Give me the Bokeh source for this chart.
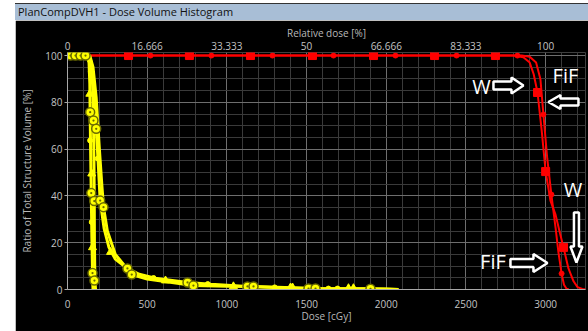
from bokeh.plotting import figure
from bokeh.models import (Range1d, LinearAxis, FixedTicker, CustomJSTickFormatter,
                          Label, PolyAnnotation, Div, Spacer)
from bokeh.layouts import row, column
from bokeh.embed import file_html
from bokeh.resources import INLINE

# ---------------- data ----------------
# PTV, plan W (squares)
ptv_w_dose = [0, 2800, 2860, 2900, 2925, 2949, 2975, 3000, 3030, 3062, 3090, 3112, 3143, 3175, 3200, 3230, 3260]
ptv_w_vol = [100, 100, 99.3, 97, 92, 84.2, 68, 50.4, 38, 32, 24, 18, 9, 3.5, 1, 0.2, 0]
ptv_w_mk_dose = [383, 765, 1148, 1537, 1920, 2303, 2685, 2949, 3000, 3112]
ptv_w_mk_vol = [100, 100, 100, 100, 100, 100, 100, 84.2, 50.4, 18]
# PTV, plan FiF (dots)
ptv_f_dose = [0, 2850, 2900, 2940, 2967, 2986, 3010, 3036, 3062, 3080, 3100, 3115, 3130, 3145]
ptv_f_vol = [100, 100, 99.5, 97, 90, 74.8, 56, 40.6, 26.5, 16, 6.8, 2, 0.4, 0]
ptv_f_mk_dose = [521, 903, 1286, 1669, 2058, 2441, 2823, 2986, 3036, 3100]
ptv_f_mk_vol = [100, 100, 100, 100, 100, 100, 100, 74.8, 40.6, 6.8]

# yellow structures
y1_dose = [0, 120, 135, 140, 142, 145, 149, 153, 157, 160]
y1_vol = [100, 100, 97, 88, 75.8, 60, 41.2, 22, 7, 0]
y2_dose = [0, 130, 145, 155, 160, 163, 166, 168, 169, 172, 176]
y2_vol = [100, 100, 98, 92, 82, 72.2, 55, 37.8, 20, 3.8, 0]
y3_dose = [0, 130, 150, 165, 180, 192, 205, 230, 260, 300, 376, 450, 550, 753, 900, 1129, 1300, 1512, 1700, 1901, 2077]
y3_vol = [100, 100, 97, 88, 68.7, 55, 38, 26, 18, 13, 9, 6.5, 4.8, 3, 2.2, 1.3, 0.9, 0.4, 0.35, 0.3, 0.0]
y4_dose = [0, 140, 160, 180, 200, 215, 226, 250, 300, 403, 500, 790, 1000, 1167, 1556, 2000, 2077]
y4_vol = [100, 100, 95, 82, 60, 45, 35.2, 25, 15, 6.4, 4.5, 1.7, 1.4, 1.3, 0.4, 0.2, 0]

ring_dose = [19, 50, 82, 113, 142, 149, 157, 163, 168, 169, 180, 205, 376, 753, 1129, 1512, 1901,
             226, 403, 790, 1167, 1556]
ring_vol = [100, 100, 100, 100, 75.8, 41.2, 7, 72.2, 37.8, 3.8, 68.7, 38, 9, 3, 1.3, 0.4, 0.3,
            35.2, 6.4, 1.7, 1.3, 0.4]
tri_dose = [140, 152, 157, 270, 615, 1041, 1399, 1412, 1763, 1794]
tri_vol = [83.6, 49.5, 18, 16, 3.8, 1.3, 0.8, 0.8, 0.5, 0.5]
ydot_dose = [146, 142, 152, 190, 540, 880, 1300, 1637, 1694]
ydot_vol = [93, 63.7, 28.8, 56, 4.9, 2.3, 0.9, 0.4, 0.4]

x_ticks = [0, 500, 1000, 1500, 2000, 2500, 3000]
x_minor = list(range(0, 3300, 100))
y_ticks = [0, 20, 40, 60, 80, 100]
y_minor = list(range(0, 105, 5))
rel_ticks = [0, 16.666, 33.333, 50, 66.666, 83.333, 100]
prescription = 3000.0

FONT = "Open Sans"

# ---------------- figure ----------------
p = figure(width=573, height=311, output_backend="svg", toolbar_location=None,
           x_range=Range1d(0, 3250), y_range=Range1d(0, 101.3),
           background_fill_color="black", border_fill_color="black",
           outline_line_color=None,
           min_border_left=52, min_border_right=3, min_border_top=32, min_border_bottom=42)

p.extra_x_ranges = {"rel": Range1d(0, 3250 / prescription * 100)}

# grids
p.xgrid.ticker = FixedTicker(ticks=x_ticks, minor_ticks=x_minor)
p.ygrid.ticker = FixedTicker(ticks=y_ticks, minor_ticks=y_minor)
p.xgrid.grid_line_color = "#6e6e6e"
p.ygrid.grid_line_color = "#6e6e6e"
p.xgrid.minor_grid_line_color = "#3a3a3a"
p.ygrid.minor_grid_line_color = "#3a3a3a"

lab_col = "#c4c4c4"
for ax in (p.xaxis[0], p.yaxis[0]):
    ax.axis_line_color = "#a8a8a8"
    ax.major_tick_line_color = "#a8a8a8"
    ax.minor_tick_in = 0
    ax.minor_tick_out = 0
    ax.major_tick_in = 0
    ax.major_label_text_color = lab_col
    ax.major_label_text_font = FONT
    ax.major_label_text_font_size = "10px"
    ax.axis_label_text_color = "#b8b8b8"
    ax.axis_label_text_font = FONT
    ax.axis_label_text_font_size = "10px"
    ax.axis_label_text_font_style = "normal"

p.xaxis.ticker = FixedTicker(ticks=x_ticks, minor_ticks=x_minor)
p.xaxis.axis_label = "Dose [cGy]"
p.xaxis.major_tick_out = 0
p.xaxis.major_label_standoff = 10
p.xaxis.axis_label_standoff = -2

p.yaxis.ticker = FixedTicker(ticks=y_ticks, minor_ticks=y_minor)
p.yaxis.axis_label = "Ratio of Total Structure Volume [%]"
p.yaxis.major_tick_out = 3
p.yaxis.major_label_standoff = 2
p.yaxis.axis_label_standoff = 8

top = LinearAxis(x_range_name="rel", axis_label="Relative dose [%]",
                 ticker=FixedTicker(ticks=rel_ticks, minor_ticks=[]),
                 formatter=CustomJSTickFormatter(code="return (Math.abs(tick-Math.round(tick))<1e-6) ? tick.toFixed(0) : tick.toFixed(3);"))
top.axis_line_color = None
top.major_tick_out = 0
top.major_tick_in = 0
top.minor_tick_out = 0
top.minor_tick_in = 0
top.major_label_standoff = 3
top.axis_label_standoff = -1
top.major_label_text_color = lab_col
top.major_label_text_font = FONT
top.major_label_text_font_size = "10px"
top.axis_label_text_color = "#b8b8b8"
top.axis_label_text_font = FONT
top.axis_label_text_font_size = "10px"
top.axis_label_text_font_style = "normal"
p.add_layout(top, "above")

# ---------------- curves ----------------
RED = "#ff0000"
YEL = "#ffff00"
p.line(ptv_w_dose, ptv_w_vol, line_color=RED, line_width=2)
p.line(ptv_f_dose, ptv_f_vol, line_color=RED, line_width=2)
p.scatter(ptv_w_mk_dose, ptv_w_mk_vol, marker="square", size=8, fill_color=RED, line_color=RED)
p.scatter(ptv_f_mk_dose, ptv_f_mk_vol, marker="circle", size=5, fill_color=RED, line_color=RED)

for xs, ys in ((y1_dose, y1_vol), (y2_dose, y2_vol), (y3_dose, y3_vol), (y4_dose, y4_vol)):
    p.line(xs, ys, line_color=YEL, line_width=3)
p.scatter(tri_dose, tri_vol, marker="triangle", size=8, fill_color=YEL, line_color=YEL)
p.scatter(ydot_dose, ydot_vol, marker="circle", size=5, fill_color=YEL, line_color=YEL)
p.scatter(ring_dose, ring_vol, marker="circle_dot", size=9, fill_color=YEL,
          line_color="#6b6b00", line_width=1.5)

# ---------------- annotations ----------------
def dx(px):
    return (px - 67) * 500.0 / 79.7

def dy(py):
    return (289 - py) / 2.34

def harrow(tip_x, cy, length, head_len, head_h, shaft_h, direction):
    s = direction  # +1 right, -1 left
    pts = [(tip_x, cy),
           (tip_x - s * head_len, cy - head_h / 2),
           (tip_x - s * head_len, cy - shaft_h / 2),
           (tip_x - s * length, cy - shaft_h / 2),
           (tip_x - s * length, cy + shaft_h / 2),
           (tip_x - s * head_len, cy + shaft_h / 2),
           (tip_x - s * head_len, cy + head_h / 2)]
    return [dx(a) for a, b in pts], [dy(b) for a, b in pts]

def varrow(cx, tip_y, length, head_len, head_w, shaft_w):
    pts = [(cx, tip_y),
           (cx - head_w / 2, tip_y - head_len),
           (cx - shaft_w / 2, tip_y - head_len),
           (cx - shaft_w / 2, tip_y - length),
           (cx + shaft_w / 2, tip_y - length),
           (cx + shaft_w / 2, tip_y - head_len),
           (cx + head_w / 2, tip_y - head_len)]
    return [dx(a) for a, b in pts], [dy(b) for a, b in pts]

arrows = [harrow(523, 85, 30, 12, 16, 8, 1),
          harrow(548, 101.5, 30, 12, 14, 7, -1),
          varrow(576, 262, 50, 16, 12, 5),
          harrow(547, 262.5, 37, 14, 18, 8, 1)]
for xs, ys in arrows:
    p.add_layout(PolyAnnotation(xs=xs, ys=ys, fill_color="black", fill_alpha=1,
                                line_color="white", line_width=2.5, line_alpha=1))

for txt, px, py in (("W", 481, 85.5), ("FiF", 565, 75), ("W", 572.5, 189), ("FiF", 492.5, 261)):
    p.add_layout(Label(x=dx(px), y=dy(py), text=txt, text_color="white",
                       text_font=FONT, text_font_size="20px",
                       text_align="center", text_baseline="middle"))

# ---------------- window chrome ----------------
title_bar = Div(text="PlanCompDVH1 - Dose Volume Histogram", width=573, height=17, margin=0,
                styles={"background-color": "#a8bed6", "font-family": "Open Sans",
                        "font-size": "11px", "color": "#111111", "padding-left": "3px",
                        "line-height": "16px", "border-top": "1px solid #333333",
                        "box-sizing": "border-box", "white-space": "nowrap",
                        "overflow": "hidden"})
layout = row(Spacer(width=15, height=331, margin=0),
             column(Spacer(width=573, height=3, margin=0), title_bar, p, spacing=0, margin=0),
             spacing=0, margin=0)

open("out.html", "w").write(file_html(layout, INLINE))
